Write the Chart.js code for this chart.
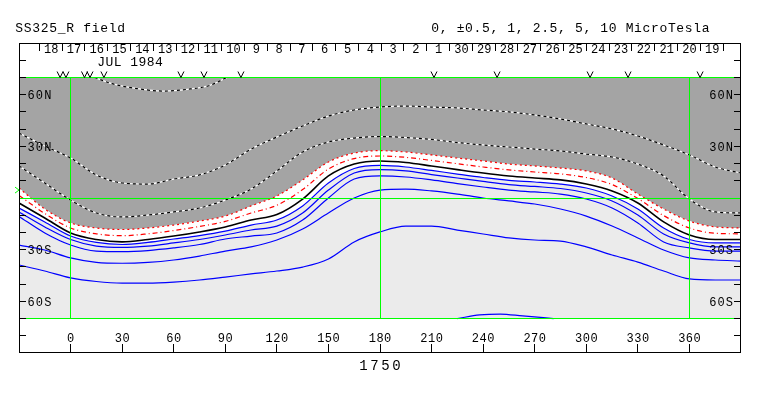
<!DOCTYPE html>
<html>
<head>
<meta charset="utf-8">
<title>SS325_R field</title>
<script src="https://cdn.jsdelivr.net/npm/chart.js@4.4.1/dist/chart.umd.min.js"></script>
<style>
html, body { margin: 0; padding: 0; background: #fff; }
#wrap { width: 763px; height: 396px; position: relative; }
</style>
</head>
<body>
<div id="wrap"><canvas id="fieldChart"></canvas></div>
<script>
// ===============================
// DATA (Carrington map 1750)
// ===============================
const lons = [-30, -15, 0, 15, 30, 45, 60, 75, 90, 105, 120, 135, 150, 165, 180,
              195, 210, 225, 240, 255, 270, 285, 300, 315, 330, 345, 360, 375, 390];

// negative contours
const dashMid   = [37.7, 30.2, 23.2, 13.4, 8.7, 8.1, 11, 13.4, 19.2, 28.4, 35.4, 41.8, 47.6, 51.1, 52.8,
                   53.4, 52.8, 52.3, 51.1, 50, 48.2, 45.9, 43, 40.1, 36, 30.8, 25, 18, 14.5];
const dashLow   = [18.6, 8.7, -1.2, -8.7, -11, -9.9, -8.1, -5.8, -1.2, 5.2, 15.7, 26.7, 32.5, 34.8, 35.7,
                   35.1, 34, 32.2, 30.8, 29.6, 28.4, 27.3, 25.5, 23.8, 19.7, 12.8, -0.6, -8.1, -8.7];
const redDotted = [5.8, -6.4, -14.5, -17.4, -18.3, -17.4, -15.7, -13.4, -10.5, -4.6, 1.2, 10.5, 20.9, 26.1, 27.5,
                   26.7, 25, 23.2, 21.5, 19.7, 18.6, 17.4, 15.7, 11.6, 2.3, -6.4, -13.4, -16.8, -17.4];
const redDashDot = [1.5, -9, -17.4, -20.8, -21.9, -20.8, -18.9, -16.5, -13.6, -8.7, -4.2, 4.9, 16.8, 22.9, 24.4,
                    23.6, 21.8, 19.9, 18, 16.3, 15.1, 14, 11.9, 7.8, -0.3, -10.2, -17.4, -20.5, -20.8];

// neutral line
const neutral   = [-2.9, -11.6, -20.3, -24.1, -25.5, -24.1, -22.1, -19.7, -16.8, -12.8, -9.6, -0.6, 12.8, 19.7, 21.5,
                   20.6, 18.6, 16.5, 14.5, 12.8, 11.6, 10.5, 8.1, 4.1, -2.9, -13.9, -21.5, -24.1, -24.1];

// positive contours
const blue1 = [-5.8, -13.9, -22.1, -25.8, -27, -25.8, -23.8, -21.8, -19.2, -15.7, -12.8, -4.6, 8.7, 17.1, 18.9,
               18, 16, 13.9, 11.9, 10.2, 9.3, 8.1, 5.8, 1.2, -6.4, -17.4, -24.1, -26.1, -26.1];
const blue2 = [-8.1, -16.8, -24.1, -27.9, -28.7, -27.9, -26.1, -24.1, -21.5, -18.6, -16.3, -8.7, 4.6, 14.5, 16.5,
               15.7, 13.6, 11.6, 9.6, 7.8, 6.7, 5.5, 2.9, -1.7, -9.9, -20.9, -26.1, -28.4, -28.4];
const blue3 = [-10.7, -20.3, -27.3, -30.8, -31.1, -30.5, -29, -27, -23.8, -22.1, -20.3, -12.8, 0, 11, 12.8,
               12.2, 10.5, 8.4, 6.4, 4.6, 3.5, 2.3, -0.6, -5.8, -14.5, -25.5, -29, -30.8, -30.8];
const blue4 = [-27.3, -30.2, -34.8, -37.4, -37.9, -37.4, -36, -33.7, -30.8, -28.4, -24.4, -18, -8.7, 0, 4.6,
               5.2, 4.1, 2.3, 0, -1.7, -3.5, -6.4, -10.5, -16.3, -23.2, -30.2, -34.8, -36, -36.6];
const blue5 = [-38.9, -42.4, -46.4, -48.5, -49.4, -49.4, -48.8, -47.6, -45.9, -44.1, -42.4, -40.1, -35.4, -25.5, -19.7,
               -16.3, -16.3, -18.6, -20.9, -23.2, -24.4, -25, -28.4, -33.1, -37.2, -42.4, -47, -47.6, -47.6];

// short pieces that leave the +-70 window
const dashTopLons = [14, 24, 35, 54, 68, 81, 91];
const dashTopLats = [70, 66.4, 64.1, 62.1, 63.1, 65.4, 70];
const blueCapLons = [225, 238, 250, 263, 281];
const blueCapLats = [-70, -67.9, -67.4, -68.5, -70];

// grid, ticks, labels
const meridians = [0, 180, 360];
const parallels = [-70, 0, 70];
const lonTicks = [0, 30, 60, 90, 120, 150, 180, 210, 240, 270, 300, 330, 360];
const latTicks = [-80, -70, -60, -50, -40, -30, -20, -10, 10, 20, 30, 40, 50, 60, 70, 80];
const latLabelValues = [60, 30, -30, -60];
const latLabels = ["60N", "30N", "30S", "60S"];
const dayLabels = ["18", "17", "16", "15", "14", "13", "12", "11", "10", "9", "8", "7", "6", "5", "4",
                   "3", "2", "1", "30", "29", "28", "27", "26", "25", "24", "23", "22", "21", "20", "19"];
const dayStartLon = -18.2;
const degPerDay = 13.26;
const obsLons = [-6.1, -2.7, 8.1, 11.3, 19.4, 64.2, 77.6, 99.1, 211.4, 248.1, 302.2, 324.3, 366.2];
const earthLat = 4.6;

const titleText = "SS325_R field";
const levelText = "0, \u00b10.5, 1, 2.5, 5, 10 MicroTesla";
const monthText = "JUL 1984";
const rotationText = "1750";

// ===============================
// HELPERS
// ===============================
const MONO = '"Liberation Mono", "DejaVu Sans Mono", monospace';

function pts(xs, ys) {
    return xs.map((x, i) => ({ x: x, y: ys[i] }));
}

function contour(xs, ys, color, width, dash) {
    return {
        data: pts(xs, ys),
        borderColor: color,
        borderWidth: width,
        borderDash: dash || [],
        fill: false,
        pointRadius: 0
    };
}

function crisp(v) {
    return Math.floor(v) + 0.5;
}

function monoText(ctx, str, x, y, step, align) {
    const w = str.length * step;
    let x0 = x;
    if (align === "center") x0 = x - w / 2;
    if (align === "right") x0 = x - w;
    ctx.textAlign = "center";
    for (let i = 0; i < str.length; i++) {
        ctx.fillText(str[i], x0 + step * (i + 0.5), y);
    }
}

// ===============================
// DECORATION PLUGIN
// ===============================
const mapDecor = {
    id: "mapDecor",

    afterDatasetsDraw(chart) {
        const ctx = chart.ctx;
        const xs = chart.scales.x;
        const ys = chart.scales.y;
        const area = chart.chartArea;

        ctx.save();
        ctx.strokeStyle = "#00ff00";
        ctx.lineWidth = 1;
        ctx.beginPath();
        const top = Math.floor(ys.getPixelForValue(70));
        const bottom = Math.floor(ys.getPixelForValue(-70)) + 1;
        meridians.forEach(lon => {
            const px = crisp(xs.getPixelForValue(lon));
            ctx.moveTo(px, top);
            ctx.lineTo(px, bottom);
        });
        parallels.forEach(lat => {
            const py = crisp(ys.getPixelForValue(lat));
            ctx.moveTo(area.left, py);
            ctx.lineTo(area.right, py);
        });
        ctx.stroke();
        ctx.restore();
    },

    afterDraw(chart) {
        const ctx = chart.ctx;
        const xs = chart.scales.x;
        const ys = chart.scales.y;
        const area = chart.chartArea;

        ctx.save();
        ctx.strokeStyle = "#000";
        ctx.fillStyle = "#000";
        ctx.lineWidth = 1;
        ctx.textBaseline = "alphabetic";

        // frame
        ctx.strokeRect(area.left + 0.5, area.top + 0.5, area.right - area.left - 1, area.bottom - area.top - 1);

        // latitude ticks, both sides
        ctx.beginPath();
        latTicks.forEach(lat => {
            const py = crisp(ys.getPixelForValue(lat));
            ctx.moveTo(area.left, py);
            ctx.lineTo(area.left + 7, py);
            ctx.moveTo(area.right - 7, py);
            ctx.lineTo(area.right, py);
        });

        // longitude ticks on the bottom
        lonTicks.forEach(lon => {
            const px = crisp(xs.getPixelForValue(lon));
            ctx.moveTo(px, area.bottom - 9);
            ctx.lineTo(px, area.bottom);
        });

        // day ticks on the top
        for (let k = 0; k <= dayLabels.length; k++) {
            const px = crisp(xs.getPixelForValue(dayStartLon + k * degPerDay));
            ctx.moveTo(px, area.top + 1);
            ctx.lineTo(px, area.top + 8);
        }
        ctx.stroke();

        // latitude labels
        ctx.font = "12px " + MONO;
        latLabelValues.forEach((lat, i) => {
            const py = ys.getPixelForValue(lat) + 4.5;
            monoText(ctx, latLabels[i], area.left + 8, py, 8.3, "left");
            monoText(ctx, latLabels[i], area.right - 7.5, py, 8.3, "right");
        });

        // longitude labels
        lonTicks.forEach(lon => {
            monoText(ctx, String(lon), xs.getPixelForValue(lon), area.bottom - 11, 7.7, "center");
        });

        // day labels
        dayLabels.forEach((d, k) => {
            const mid = dayStartLon + (k + 0.5) * degPerDay;
            monoText(ctx, d, xs.getPixelForValue(mid) + 0.5, area.top + 10, 7.2, "center");
        });

        // observation marks
        const vBase = Math.floor(ys.getPixelForValue(70)) + 0.5;
        ctx.beginPath();
        obsLons.forEach(lon => {
            const px = xs.getPixelForValue(lon);
            ctx.moveTo(px - 3, vBase - 6);
            ctx.lineTo(px, vBase);
            ctx.lineTo(px + 3, vBase - 6);
        });
        ctx.stroke();

        // earth latitude marker
        const ey = ys.getPixelForValue(earthLat);
        ctx.strokeStyle = "#00ff00";
        ctx.beginPath();
        ctx.moveTo(area.left - 4, ey - 3);
        ctx.lineTo(area.left, ey);
        ctx.lineTo(area.left - 4, ey + 3);
        ctx.stroke();

        // titles
        ctx.font = "13px " + MONO;
        monoText(ctx, titleText, 15, 32, 8.5, "left");
        monoText(ctx, levelText, 431, 32, 8.45, "left");
        monoText(ctx, monthText, 97, 66, 8.25, "left");

        ctx.font = "14px " + MONO;
        monoText(ctx, rotationText, xs.getPixelForValue(180), 369.5, 11, "center");

        ctx.restore();
    }
};

// ===============================
// CHART
// ===============================
document.addEventListener("DOMContentLoaded", () => {

    const datasets = [
        // fills: dark above the outer red line, white band, light below
        { data: pts(lons, redDotted), fill: { value: 70 }, backgroundColor: "#a4a4a4", borderWidth: 0, pointRadius: 0 },
        { data: pts(lons, blue1), fill: "-1", backgroundColor: "#ffffff", borderWidth: 0, pointRadius: 0 },
        { data: pts(lons, blue1), fill: { value: -70 }, backgroundColor: "#ebebeb", borderWidth: 0, pointRadius: 0 },

        contour(lons, blue5, "#0000ff", 1.2),
        contour(lons, blue4, "#0000ff", 1.2),
        contour(lons, blue3, "#0000ff", 1.2),
        contour(lons, blue2, "#0000ff", 1.2),
        contour(lons, blue1, "#0000ff", 1.2),
        contour(blueCapLons, blueCapLats, "#0000ff", 1.2),

        contour(lons, neutral, "#000000", 1.6),
        contour(lons, redDashDot, "#ff0000", 1.2, [5, 3, 1, 3]),
        contour(lons, redDotted, "#ff0000", 1.2, [2, 3]),

        contour(lons, dashLow, "#ffffff", 1.2),
        contour(lons, dashLow, "#000000", 1.2, [3, 3]),
        contour(lons, dashMid, "#ffffff", 1.2),
        contour(lons, dashMid, "#000000", 1.2, [3, 3]),
        contour(dashTopLons, dashTopLats, "#ffffff", 1.2),
        contour(dashTopLons, dashTopLats, "#000000", 1.2, [3, 3])
    ];

    // later entries on top
    datasets.forEach((d, i) => { d.order = datasets.length - i; });

    new Chart(document.getElementById("fieldChart"), {
        type: "line",
        data: { datasets: datasets },
        options: {
            responsive: true,
            maintainAspectRatio: false,
            animation: false,
            layout: { padding: { left: 19, top: 43, right: 22, bottom: 43 } },
            scales: {
                x: { type: "linear", min: -30, max: 390, display: false },
                y: { type: "linear", min: -90, max: 90, display: false }
            },
            elements: {
                line: { cubicInterpolationMode: "monotone" },
                point: { radius: 0 }
            },
            plugins: {
                legend: { display: false },
                tooltip: { enabled: false },
                filler: { drawTime: "beforeDatasetsDraw" }
            }
        },
        plugins: [mapDecor]
    });
});
</script>
</body>
</html>
